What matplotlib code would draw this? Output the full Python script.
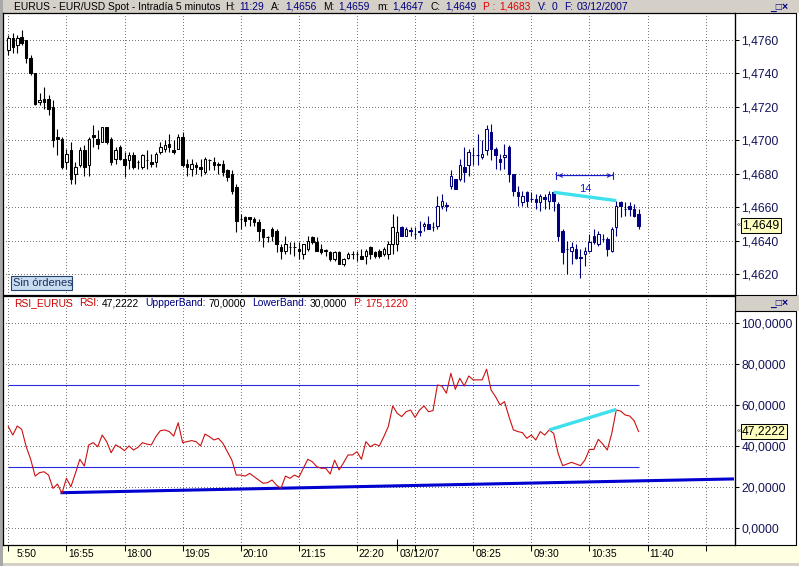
import numpy as np
import matplotlib
matplotlib.use('Agg')
import matplotlib.pyplot as plt
from matplotlib.patches import Rectangle
from matplotlib import transforms

plt.rcParams['font.family'] = ['Liberation Sans', 'DejaVu Sans']

# ---- EUR/USD 5 min bars (bar index on x) ----
open_ = [1.4754, 1.4761, 1.4757, 1.4762, 1.4760, 1.4749, 1.4740, 1.4723, 1.4725, 1.4725,
         1.4720, 1.4702, 1.4701, 1.4687, 1.4694, 1.4680, 1.4685, 1.4694, 1.4685, 1.4703,
         1.4701, 1.4699, 1.4708, 1.4701, 1.4689, 1.4696, 1.4689, 1.4688, 1.4691, 1.4687,
         1.4684, 1.4688, 1.4687, 1.4687, 1.4693, 1.4695, 1.4698, 1.4694, 1.4695, 1.4702,
         1.4686, 1.4683, 1.4685, 1.4684, 1.4681, 1.4688, 1.4687, 1.4686, 1.4686, 1.4682,
         1.4680, 1.4672, 1.4653, 1.4654, 1.4654, 1.4653, 1.4651, 1.4647, 1.4642, 1.4647,
         1.4646, 1.4636, 1.4634, 1.4636, 1.4636, 1.4635, 1.4632, 1.4635, 1.4642, 1.4639,
         1.4635, 1.4634, 1.4633, 1.4629, 1.4633, 1.4626, 1.4630, 1.4632, 1.4632, 1.4631,
         1.4631, 1.4636, 1.4633, 1.4634, 1.4632, 1.4632, 1.4638, 1.4638, 1.4648, 1.4643,
         1.4646, 1.4644, 1.4645, 1.4649, 1.4650, 1.4648, 1.4649, 1.4661, 1.4661, 1.4673,
         1.4677, 1.4677, 1.4684, 1.4685, 1.4691, 1.4691, 1.4690, 1.4694, 1.4705, 1.4695,
         1.4689, 1.4690, 1.4696, 1.4680, 1.4669, 1.4663, 1.4669, 1.4665, 1.4665, 1.4663,
         1.4666, 1.4664, 1.4669, 1.4662, 1.4646, 1.4635, 1.4634, 1.4635, 1.4630, 1.4632,
         1.4634, 1.4643, 1.4638, 1.4641, 1.4641, 1.4634, 1.4648, 1.4663, 1.4659, 1.4661,
         1.4659, 1.4656]
high = [1.4763, 1.4764, 1.4763, 1.4766, 1.4760, 1.4751, 1.4740, 1.4728, 1.4732, 1.4727,
        1.4724, 1.4707, 1.4702, 1.4695, 1.4699, 1.4687, 1.4696, 1.4697, 1.4702, 1.4709,
        1.4706, 1.4708, 1.4708, 1.4702, 1.4696, 1.4697, 1.4693, 1.4693, 1.4693, 1.4688,
        1.4692, 1.4694, 1.4692, 1.4693, 1.4699, 1.4700, 1.4704, 1.4700, 1.4704, 1.4705,
        1.4689, 1.4689, 1.4687, 1.4689, 1.4690, 1.4689, 1.4690, 1.4687, 1.4688, 1.4683,
        1.4682, 1.4674, 1.4656, 1.4655, 1.4654, 1.4654, 1.4653, 1.4647, 1.4643, 1.4648,
        1.4647, 1.4638, 1.4643, 1.4639, 1.4639, 1.4639, 1.4638, 1.4643, 1.4643, 1.4642,
        1.4638, 1.4635, 1.4634, 1.4634, 1.4634, 1.4630, 1.4633, 1.4634, 1.4634, 1.4635,
        1.4635, 1.4637, 1.4634, 1.4635, 1.4636, 1.4640, 1.4656, 1.4655, 1.4649, 1.4648,
        1.4648, 1.4648, 1.4652, 1.4651, 1.4655, 1.4651, 1.4667, 1.4668, 1.4663, 1.4682,
        1.4677, 1.4689, 1.4696, 1.4695, 1.4696, 1.4704, 1.4700, 1.4709, 1.4710, 1.4696,
        1.4692, 1.4698, 1.4697, 1.4680, 1.4673, 1.4670, 1.4670, 1.4669, 1.4668, 1.4668,
        1.4668, 1.4670, 1.4670, 1.4663, 1.4647, 1.4640, 1.4639, 1.4638, 1.4635, 1.4636,
        1.4644, 1.4647, 1.4646, 1.4644, 1.4642, 1.4648, 1.4664, 1.4664, 1.4663, 1.4663,
        1.4662, 1.4659]
low = [1.4751, 1.4752, 1.4752, 1.4757, 1.4746, 1.4739, 1.4721, 1.4721, 1.4719, 1.4715,
       1.4696, 1.4691, 1.4683, 1.4683, 1.4674, 1.4674, 1.4684, 1.4679, 1.4679, 1.4696,
       1.4695, 1.4699, 1.4698, 1.4685, 1.4686, 1.4688, 1.4678, 1.4683, 1.4683, 1.4683,
       1.4683, 1.4683, 1.4684, 1.4684, 1.4692, 1.4693, 1.4693, 1.4692, 1.4695, 1.4684,
       1.4679, 1.4679, 1.4680, 1.4679, 1.4680, 1.4682, 1.4682, 1.4680, 1.4679, 1.4676,
       1.4668, 1.4645, 1.4647, 1.4649, 1.4649, 1.4649, 1.4640, 1.4636, 1.4639, 1.4640,
       1.4633, 1.4629, 1.4632, 1.4632, 1.4631, 1.4629, 1.4629, 1.4634, 1.4638, 1.4634,
       1.4632, 1.4631, 1.4628, 1.4628, 1.4626, 1.4625, 1.4629, 1.4629, 1.4628, 1.4629,
       1.4626, 1.4629, 1.4630, 1.4630, 1.4631, 1.4629, 1.4632, 1.4634, 1.4643, 1.4643,
       1.4643, 1.4641, 1.4643, 1.4646, 1.4647, 1.4646, 1.4647, 1.4659, 1.4658, 1.4671,
       1.4671, 1.4676, 1.4675, 1.4679, 1.4685, 1.4685, 1.4689, 1.4691, 1.4688, 1.4683,
       1.4682, 1.4683, 1.4675, 1.4667, 1.4661, 1.4661, 1.4660, 1.4663, 1.4659, 1.4658,
       1.4659, 1.4659, 1.4658, 1.4640, 1.4626, 1.4620, 1.4626, 1.4629, 1.4618, 1.4625,
       1.4633, 1.4638, 1.4637, 1.4639, 1.4631, 1.4633, 1.4643, 1.4654, 1.4655, 1.4655,
       1.4654, 1.4647]
close = [1.4761, 1.4756, 1.4761, 1.4758, 1.4749, 1.4740, 1.4722, 1.4724, 1.4723, 1.4719,
         1.4700, 1.4701, 1.4684, 1.4692, 1.4677, 1.4684, 1.4694, 1.4684, 1.4701, 1.4702,
         1.4698, 1.4708, 1.4699, 1.4687, 1.4694, 1.4689, 1.4685, 1.4691, 1.4684, 1.4687,
         1.4691, 1.4688, 1.4686, 1.4692, 1.4696, 1.4697, 1.4696, 1.4693, 1.4702, 1.4685,
         1.4684, 1.4686, 1.4684, 1.4683, 1.4689, 1.4688, 1.4685, 1.4685, 1.4681, 1.4678,
         1.4670, 1.4652, 1.4653, 1.4652, 1.4653, 1.4651, 1.4646, 1.4642, 1.4642, 1.4643,
         1.4638, 1.4634, 1.4638, 1.4636, 1.4636, 1.4634, 1.4638, 1.4640, 1.4639, 1.4634,
         1.4633, 1.4634, 1.4629, 1.4633, 1.4626, 1.4629, 1.4632, 1.4632, 1.4632, 1.4629,
         1.4634, 1.4632, 1.4631, 1.4631, 1.4635, 1.4638, 1.4648, 1.4645, 1.4643, 1.4647,
         1.4646, 1.4644, 1.4646, 1.4650, 1.4647, 1.4648, 1.4661, 1.4664, 1.4661, 1.4679,
         1.4671, 1.4685, 1.4681, 1.4693, 1.4691, 1.4691, 1.4692, 1.4707, 1.4695, 1.4691,
         1.4687, 1.4691, 1.4680, 1.4670, 1.4667, 1.4667, 1.4664, 1.4665, 1.4663, 1.4667,
         1.4665, 1.4668, 1.4664, 1.4643, 1.4633, 1.4635, 1.4636, 1.4630, 1.4630, 1.4634,
         1.4639, 1.4639, 1.4644, 1.4641, 1.4635, 1.4647, 1.4661, 1.4661, 1.4659, 1.4659,
         1.4655, 1.4649]

rsi = [49.6, 45.5, 49.9, 48.3, 39.8, 33.7, 25.5, 27.2, 27.6, 26.0,
       19.5, 21.6, 17.1, 24.4, 20.3, 26.8, 33.7, 30.4, 40.7, 41.8,
       39.8, 45.5, 42.3, 36.9, 40.7, 39.5, 37.9, 40.2, 38.2, 39.5,
       41.8, 41.1, 40.7, 44.7, 47.6, 48.0, 47.2, 45.0, 51.5, 41.8,
       42.3, 42.8, 42.3, 40.2, 46.0, 44.7, 43.1, 43.9, 41.5, 37.4,
       33.3, 26.0, 26.0, 25.5, 26.8, 25.2, 23.6, 22.0, 22.3, 23.6,
       21.1, 19.5, 25.5, 24.4, 26.0, 24.9, 29.3, 33.7, 32.5, 30.1,
       29.3, 29.3, 26.5, 33.3, 28.5, 32.0, 35.8, 35.8, 37.4, 33.7,
       42.3, 39.8, 41.1, 40.2, 44.7, 49.6, 59.7, 56.1, 54.5, 56.9,
       57.7, 54.1, 57.7, 59.7, 56.9, 57.4, 69.9, 69.4, 65.9, 75.6,
       67.8, 73.2, 69.4, 74.3, 72.4, 72.4, 72.4, 77.6, 67.5, 64.2,
       60.2, 61.8, 54.5, 48.0, 47.2, 46.7, 43.9, 45.5, 43.1, 47.2,
       45.5, 48.0, 46.3, 36.6, 30.6, 31.4, 32.2, 31.4, 30.6, 33.3,
       38.5, 38.5, 43.4, 41.1, 38.2, 46.3, 57.7, 57.2, 55.3, 54.8,
       52.5, 47.2222]

upper_band, lower_band, rsi_period = 70.0, 30.0, 175.1220
prev_close = 1.4683
new_day_idx = 88          # first bar of 03/12/07 (drawn in navy)

# time axis: one label every 13 bars
tick_idx = [0, 13, 26, 39, 52, 65, 78, 91, 104, 117, 130, 143, 156]
tick_lab = ['5:50', '16:55', '18:00', '19:05', '20:10', '21:15', '22:20', '',
            '08:25', '09:30', '10:35', '11:40', '']
date_idx, date_lab = 87, '03/12/07'

# drawn studies
price_div_idx = [122, 136]
price_div = [1.4669, 1.4664]
rsi_div_idx = [121, 136]
rsi_div = [48.0, 58.0]
rsi_trend_idx = [12, 162]
rsi_trend = [17.4, 24.1]
measure_idx = [122, 136]
measure_y = 1.4679

price_ticks = [1.4620, 1.4640, 1.4660, 1.4680, 1.4700, 1.4720, 1.4740, 1.4760]
rsi_ticks = [0, 20, 40, 60, 80, 100]

# ---- layout ----
W, H = 799, 566
NAVY = '#000080'
AX_TXT = '#14145a'
fig = plt.figure(figsize=(W / 100, H / 100), dpi=100)


def frac(x0, y0, x1, y1):
    return [x0 / W, 1 - y1 / H, (x1 - x0) / W, (y1 - y0) / H]


def box(x0, y0, x1, y1, **kw):
    r = Rectangle((x0 / W, 1 - y1 / H), (x1 - x0) / W, (y1 - y0) / H,
                  transform=fig.transFigure, **kw)
    fig.patches.append(r)
    return r


def comma(v, d=4):
    return f'{v:.{d}f}'.replace('.', ',')


box(0, 0, W, 13, fc='#d4d0c8', ec='none', zorder=-1)
box(0, 545, W, H, fc='#ffffe1', ec='none', zorder=-1)
box(0, 563, W, H, fc='#d4d0c8', ec='none', zorder=-1)
box(0, 0, 3, H, fc='#a8a8a8', ec='none', zorder=-1)
box(735, 295, W, 311, fc='#d4d0c8', ec='none', zorder=-1)
box(735, 13, 796, 295, fc='none', ec='black', lw=0.8)
box(735, 311, 796, 545, fc='none', ec='black', lw=0.8)

ax1 = fig.add_axes(frac(3, 13, 735, 295))
ax2 = fig.add_axes(frac(3, 296, 735, 545))
xlim = (-1.19, 162.57)

# dotted grid: one pixel on, about three off
grid_kw = dict(color='#7a7a7a', linestyle=(0, (0.8, 2.8)), linewidth=0.72, zorder=0.5,
               snap=True, antialiased=False)
for ax, yt in ((ax1, price_ticks), (ax2, rsi_ticks)):
    ax.set_xlim(*xlim)
    ax.set_xticks(tick_idx)
    ax.set_yticks(yt)
    for xv in tick_idx:
        ax.axvline(xv, **grid_kw)
    for yv in yt:
        ax.axhline(yv, **grid_kw)
    ax.yaxis.tick_right()
    ax.tick_params(axis='y', direction='out', length=3, width=0.75, pad=1.5,
                   labelsize=8.7, labelcolor=AX_TXT)
    for s in ax.spines.values():
        s.set_linewidth(0.9)
        s.set_color('black')
ax1.tick_params(axis='x', length=0, labelbottom=False)

# ---- candles ----
idx = np.arange(len(close))
o, h, l, c = map(np.array, (open_, high, low, close))
edge = np.where(idx < new_day_idx, 'black', NAVY)
up = c > o
face = np.where(up, 'white', edge)
body_lo = np.minimum(o, c)
body_h = np.maximum(np.abs(c - o), 0.00002)
ax1.vlines(idx, l, h, colors=edge, linewidth=0.8, zorder=2)
ax1.bar(idx, body_h, bottom=body_lo, width=0.56, color=face, edgecolor=edge,
        linewidth=0.75, zorder=3)
ax1.set_ylim(1.46076, 1.47761)
ax1.set_yticklabels([comma(v) for v in price_ticks])

ax1.plot(price_div_idx, price_div, color='#3ee0ee', lw=2.4, solid_capstyle='butt', zorder=4)
ax1.annotate('', xy=(measure_idx[1], measure_y), xytext=(measure_idx[0], measure_y),
             arrowprops=dict(arrowstyle='|-|,widthA=0.25,widthB=0.25', color='#1a1acc', lw=0.8))
ax1.annotate('', xy=(measure_idx[1] - 0.3, measure_y), xytext=(measure_idx[0] + 0.3, measure_y),
             arrowprops=dict(arrowstyle='<->,head_length=0.25,head_width=0.12', color='#1a1acc', lw=0.8))
ax1.text(np.mean(measure_idx), 1.46712, str(measure_idx[1] - measure_idx[0]),
         ha='center', va='center', fontsize=8, color='#1a1acc')

# current price box
off = transforms.ScaledTranslation(7 / 100, 0, fig.dpi_scale_trans)
tr1 = transforms.blended_transform_factory(ax1.transAxes, ax1.transData)
ax1.text(1, close[-1], comma(close[-1]), transform=tr1 + off, ha='left', va='center',
         fontsize=8.7, color='black', clip_on=False,
         bbox=dict(boxstyle='square,pad=0.12', fc='#ffffc0', ec='black', lw=0.75))
ax1.text(1, close[-1], '\u00ab', transform=tr1 + transforms.ScaledTranslation(1.5 / 100, 0, fig.dpi_scale_trans),
         ha='left', va='center', fontsize=5.5, color='#404040', clip_on=False)

# ---- RSI ----
ax2.set_ylim(-8.1, 113.3)
ax2.set_yticklabels([comma(v) for v in rsi_ticks])
ax2.plot(idx, rsi, color='#cc1010', lw=0.8, zorder=3)
ax2.hlines([upper_band, lower_band], 0, idx[-1], colors='#2a2ae0', lw=0.8, zorder=2)
ax2.plot(rsi_trend_idx, rsi_trend, color='#0000d0', lw=2.2, zorder=2)
ax2.plot(rsi_div_idx, rsi_div, color='#3ee0ee', lw=2.4, solid_capstyle='butt', zorder=4)

tr2 = transforms.blended_transform_factory(ax2.transAxes, ax2.transData)
ax2.text(1, rsi[-1], comma(rsi[-1]), transform=tr2 + off, ha='left', va='center',
         fontsize=8.7, color='black', clip_on=False,
         bbox=dict(boxstyle='square,pad=0.12', fc='#ffffc0', ec='black', lw=0.75))
ax2.text(1, rsi[-1], '\u00ab', transform=tr2 + transforms.ScaledTranslation(1.5 / 100, 0, fig.dpi_scale_trans),
         ha='left', va='center', fontsize=5.5, color='#404040', clip_on=False)

# time axis
ax2.tick_params(axis='x', direction='out', length=4, width=0.75, labelbottom=False)
ax2.set_xticks([date_idx], minor=True)
ax2.tick_params(axis='x', which='minor', direction='inout', length=8, width=0.75)
txt_off = transforms.ScaledTranslation(2 / 100, -4 / 100, fig.dpi_scale_trans)
trx = transforms.blended_transform_factory(ax2.transData, ax2.transAxes)
for xi, lab in zip(tick_idx, tick_lab):
    if lab:
        shift = 1.5 if xi == 0 else 0
        ax2.text(xi + shift, 0, lab, transform=trx + txt_off, ha='left', va='top',
                 fontsize=7.4, color='black', clip_on=False)
ax2.text(date_idx, 0, date_lab, transform=trx + txt_off, ha='left', va='top',
         fontsize=7.4, color='black', clip_on=False)

# ---- header texts ----
renderer = fig.canvas.get_renderer()


def flow(x, y, parts, size=7.4):
    for text, color, gap in parts:
        x += gap
        t = fig.text(x / W, 1 - y / H, text, color=color, fontsize=size, ha='left', va='center')
        x = t.get_window_extent(renderer=renderer).x1


flow(14, 6.5, [
    ('EURUS - EUR/USD Spot - Intrad\u00eda 5 minutos', 'black', 0),
    ('H:', 'black', 5), ('11:29', NAVY, 4),
    ('A:', 'black', 7), (comma(open_[-1]), NAVY, 4),
    ('M:', 'black', 7), (comma(high[-1]), NAVY, 4),
    ('m:', 'black', 7), (comma(low[-1]), NAVY, 4),
    ('C:', 'black', 7), (comma(close[-1]), NAVY, 4),
    ('P :', '#e00000', 7), (comma(prev_close), '#e00000', 4),
    ('V:', NAVY, 7), ('0', NAVY, 4),
    ('F:', NAVY, 7), ('03/12/2007', NAVY, 4),
])
flow(14, 303.5, [
    ('RSI_EURUS', '#cc0000', 0), ('RSI:', '#cc0000', 6), (comma(rsi[-1]), 'black', 3),
    ('UppperBand:', NAVY, 6), (comma(upper_band), 'black', 3),
    ('LowerBand:', NAVY, 6), (comma(lower_band), 'black', 3),
    ('P:', '#e00000', 6), (comma(rsi_period), '#e00000', 3),
])
for yb in (6.5, 303):
    fig.text(770 / W, 1 - yb / H, '_\u25a1\u00d7', fontsize=7.5, color=NAVY,
             ha='left', va='center', fontweight='bold')

# order status label
box(10.7, 276, 71.7, 289.5, fc='#c8dcf2', ec='#24446e', lw=0.8)
fig.text(13 / W, 1 - 283 / H, 'Sin \u00f3rdenes', fontsize=8, color='#1a2e5a', ha='left', va='center')

fig.savefig('out.png', dpi=100)
